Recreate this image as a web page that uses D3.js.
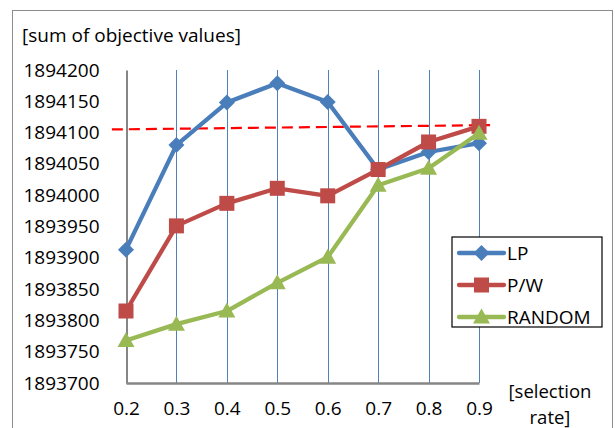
<!DOCTYPE html>
<html><head><meta charset="utf-8">
<script src="https://cdn.jsdelivr.net/npm/d3@7"></script>
<style>body{margin:0;background:#fff}svg{display:block}text{font-family:"Open Sans",sans-serif;fill:#000}</style>
</head><body>
<script>
const categories = [0.2,0.3,0.4,0.5,0.6,0.7,0.8,0.9];
const lpValues = [1893913,1894080,1894148,1894179,1894149,1894041,1894069,1894083];
const pwValues = [1893815,1893951,1893987,1894011,1893999,1894041,1894085,1894110];
const randomValues = [1893768,1893794,1893815,1893860,1893901,1894016,1894043,1894099];
const yTicks = [1893700,1893750,1893800,1893850,1893900,1893950,1894000,1894050,1894100,1894150,1894200];
const refLineX = [0.172,0.922];
const refLineY = [1894105,1894112];
const seriesNames = ["LP","P/W","RANDOM"];
const xTitleLines = ["[selection","rate]"];

const W=615,H=428,FS="19px";
const svg=d3.select("body").append("svg").attr("width",W).attr("height",H);
svg.append("rect").attr("x",12.5).attr("y",10.5).attr("width",600).attr("height",440)
  .attr("fill","none").attr("stroke","#8c8c8c").attr("stroke-width",1);

const x=d3.scaleLinear().domain([0.2,0.9]).range([126,479]);
const y=d3.scaleLinear().domain([1893700,1894200]).range([383,70]);

svg.append("g").selectAll("line").data(categories.slice(1)).join("line")
  .attr("x1",d=>Math.round(x(d))+0.5).attr("x2",d=>Math.round(x(d))+0.5)
  .attr("y1",y(1894200)).attr("y2",y(1893700))
  .attr("stroke","#4f81bd").attr("stroke-width",1);

const yAxis=d3.axisLeft(y).tickValues(yTicks).tickSize(0).tickPadding(27).tickFormat(d3.format("d"));
const gy=svg.append("g").attr("transform","translate(126.5,0)").call(yAxis);
gy.select(".domain").attr("stroke","#868686").attr("stroke-width",2);
gy.selectAll("text").style("font-size",FS).style("font-family","'Open Sans',sans-serif").attr("fill","#000");

const xAxis=d3.axisBottom(x).tickValues(categories).tickSize(0).tickPadding(19).tickFormat(d3.format(".1f"));
const gx=svg.append("g").attr("transform","translate(0,383)").call(xAxis);
gx.select(".domain").attr("stroke","#868686").attr("stroke-width",2.5);
gx.selectAll("text").style("font-size",FS).style("font-family","'Open Sans',sans-serif").attr("fill","#000");

svg.append("text").attr("x",22).attr("y",42).style("font-size",FS).text("[sum of objective values]");
svg.selectAll("text.xt").data(xTitleLines).join("text").attr("class","xt")
  .attr("x",550).attr("y",(d,i)=>i?423.5:397.5).attr("text-anchor","middle")
  .style("font-size","18.5px").text(d=>d);

svg.append("line").attr("x1",x(refLineX[0])).attr("y1",y(refLineY[0]))
  .attr("x2",x(refLineX[1])).attr("y2",y(refLineY[1]))
  .attr("stroke","#ff0000").attr("stroke-width",2.2).attr("stroke-dasharray","11,6");

const colors=["#4a7ebb","#be4b48","#98b954"];
const allSeries=[lpValues,pwValues,randomValues];
const line=d3.line().x((d,i)=>x(categories[i])).y(d=>y(d));

function marker(g,k,cx,cy){
  if(k===0){
    g.append("path").attr("d",`M${cx},${cy-8}L${cx+8},${cy}L${cx},${cy+8}L${cx-8},${cy}Z`).attr("fill",colors[k]);
  } else if(k===1){
    g.append("rect").attr("x",cx-7.5).attr("y",cy-7.5).attr("width",15).attr("height",15).attr("fill",colors[k]);
  } else {
    g.append("path").attr("d",`M${cx},${cy-8.5}L${cx+8.5},${cy+6.5}L${cx-8.5},${cy+6.5}Z`).attr("fill",colors[k]);
  }
}

allSeries.forEach((vals,k)=>{
  const g=svg.append("g");
  g.append("path").datum(vals).attr("d",line).attr("fill","none")
    .attr("stroke",colors[k]).attr("stroke-width",4.3).attr("stroke-linejoin","round");
  vals.forEach((v,i)=>marker(g,k,x(categories[i]),y(v)));
});

const lg=svg.append("g");
lg.append("rect").attr("x",452).attr("y",237).attr("width",150).attr("height",90)
  .attr("fill","#fff").attr("stroke","#000").attr("stroke-width",1.2);
const legY=[253,285,317];
seriesNames.forEach((n,k)=>{
  lg.append("line").attr("x1",459).attr("x2",504).attr("y1",legY[k]).attr("y2",legY[k])
    .attr("stroke",colors[k]).attr("stroke-width",4.3).attr("stroke-linecap","round");
  marker(lg,k,481.5,legY[k]);
  lg.append("text").attr("x",507).attr("y",legY[k]).attr("dy","0.35em").style("font-size",FS).text(n);
});
</script>
</body></html>
